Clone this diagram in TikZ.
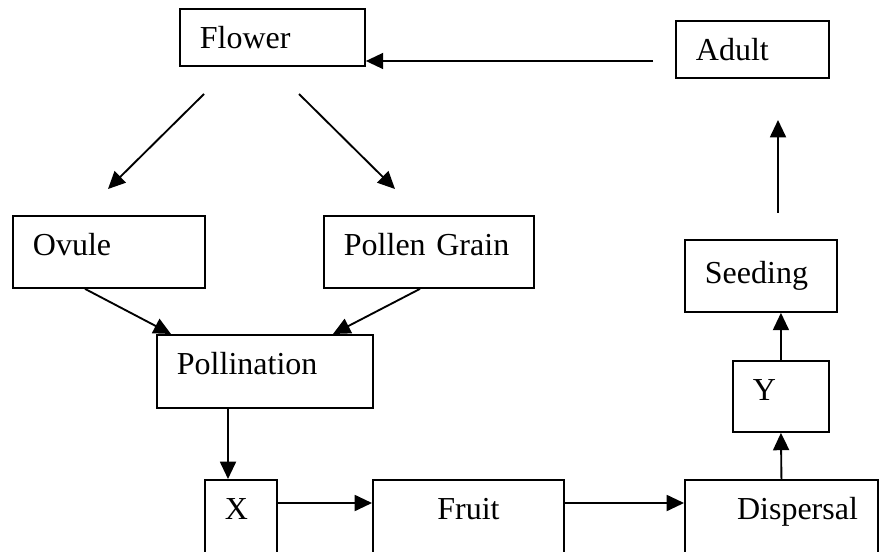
\documentclass[tikz,border=0pt]{standalone}
\usepackage{fontspec}
\setmainfont{Liberation Serif}
\usetikzlibrary{arrows.meta,calc}

\tikzset{
    box/.style={draw, line width=1.4pt, anchor=north west, inner xsep=15pt, inner ysep=0pt,
        text height=30pt, align=left, font=\fontsize{24}{28}\selectfont},
    link/.style={line width=1.4pt, -{Triangle[length=13pt,width=12pt]}}
}

\begin{document}
\begin{tikzpicture}[x=0.75pt, y=-0.75pt]
    \useasboundingbox (0,0) rectangle (891,552);
    \clip (0,0) rectangle (891,552);

    % Draw boxes
    \node[box, text width=108.75pt, text depth=12.75pt] (flower) at (179,8) {Flower};
    \node[box, text width=84.75pt, text depth=12.75pt] (adult) at (675,20) {Adult};
    \node[box, text width=114pt, text depth=24pt] (ovule) at (12,215) {Ovule};
    \node[box, text width=127.5pt, text depth=24pt] (pollen) at (323,215) {Pollen Grain};
    \node[box, text width=84pt, text height=33pt, text depth=21pt] (seeding) at (684,239) {Seeding};
    \node[box, text width=132pt, text depth=24.75pt] (pollination) at (156,334) {Pollination};
    \node[box, text width=42pt, text depth=23.25pt] (y) at (732,360) {Y};
    \node[box, text width=24pt, text depth=30pt] (x) at (204,479) {X};
    \node[box, text width=113.25pt, text depth=30pt, align=center] (fruit) at (372,479) {Fruit};
    \node[box, text width=114.75pt, text depth=30pt, align=right] (dispersal) at (684,479) {Dispersal};

    % Free ends
    \coordinate (fl1) at (204,94);
    \coordinate (fl2) at (108,189);
    \coordinate (fr1) at (299,94);
    \coordinate (fr2) at (395,189);
    \coordinate (up1) at (778,213);
    \coordinate (up2) at (778,120);
    \coordinate (back) at (653,61);

    % Draw directed edges
    \draw[link] (fl1) -- (fl2);
    \draw[link] (fr1) -- (fr2);
    \draw[link] ($(ovule.south west)+(73,0)$) -- ($(pollination.north west)+(15,0)$);
    \draw[link] ($(pollen.south west)+(97,0)$) -- ($(pollination.north west)+(177,0)$);
    \draw[link] ($(pollination.south west)+(72,0)$) -- ($(x.north west)+(24,0)$);
    \draw[link] ($(x.north east)+(0,24)$) -- ($(fruit.north west)+(0,24)$);
    \draw[link] ($(fruit.north east)+(0,24)$) -- ($(dispersal.north west)+(0,24)$);
    \draw[link] (dispersal.north) -- (y.south);
    \draw[link] (y.north) -- (seeding.south -| y.north);
    \draw[link] (up1) -- (up2);
    \draw[link] (back) -- (back -| flower.east);
\end{tikzpicture}
\end{document}
